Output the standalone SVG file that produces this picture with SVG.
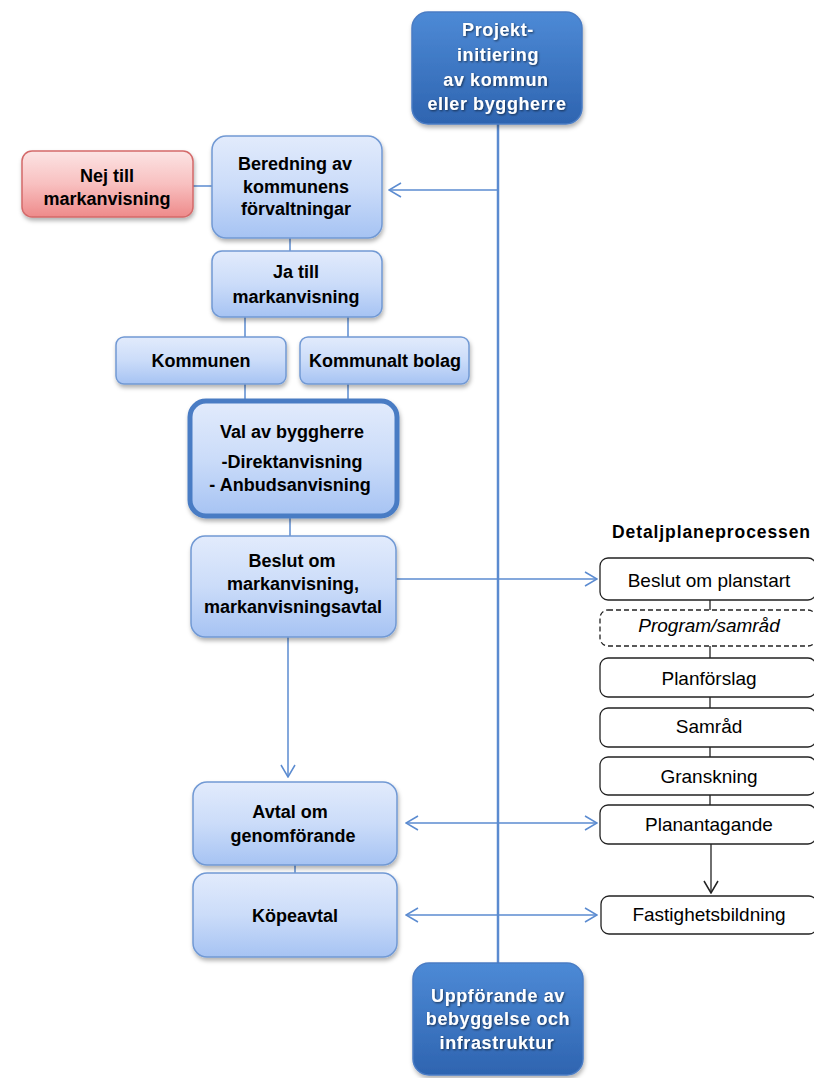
<svg xmlns="http://www.w3.org/2000/svg" width="814" height="1078" viewBox="0 0 814 1078">
<defs>
<linearGradient id="gLight" x1="0" y1="0" x2="0" y2="1"><stop offset="0" stop-color="#e2ebfc"/><stop offset="0.5" stop-color="#cbdcf9"/><stop offset="1" stop-color="#a6c3f3"/></linearGradient>
<linearGradient id="gDark" x1="0" y1="0" x2="0" y2="1"><stop offset="0" stop-color="#4d8ad6"/><stop offset="1" stop-color="#2e64b0"/></linearGradient>
<linearGradient id="gRed" x1="0" y1="0" x2="0" y2="1"><stop offset="0" stop-color="#fce4e4"/><stop offset="0.5" stop-color="#f8c0c0"/><stop offset="1" stop-color="#ee8a8a"/></linearGradient>
<filter id="sh" x="-10%" y="-10%" width="130%" height="140%"><feDropShadow dx="1" dy="3" stdDeviation="2" flood-color="#000" flood-opacity="0.3"/></filter>
<filter id="tsh" x="-10%" y="-20%" width="130%" height="160%"><feDropShadow dx="1" dy="1" stdDeviation="0.8" flood-color="#000" flood-opacity="0.6"/></filter>
<marker id="ab" markerWidth="14" markerHeight="16" refX="13" refY="8" orient="auto-start-reverse" markerUnits="userSpaceOnUse"><path d="M1,1 L13,8 L1,15" fill="none" stroke="#5b8bd0" stroke-width="1.5"/></marker>
<marker id="ak" markerWidth="14" markerHeight="16" refX="13" refY="8" orient="auto" markerUnits="userSpaceOnUse"><path d="M1,1 L13,8 L1,15" fill="none" stroke="#222" stroke-width="1.5"/></marker>
</defs>
<style>
.light{fill:url(#gLight);stroke:#7199d4;stroke-width:1.5;filter:url(#sh)}
.dark{fill:url(#gDark);stroke:#4a7cc4;stroke-width:1.5;filter:url(#sh)}
.red{fill:url(#gRed);stroke:#d46a6a;stroke-width:1.5;filter:url(#sh)}
.plain{fill:#fff;stroke:#222;stroke-width:1.3}
.dash{fill:#fff;stroke:#222;stroke-width:1.3;stroke-dasharray:5 3}
.t{font-family:"Liberation Sans",Arial,sans-serif;font-weight:bold;font-size:18px;fill:#000;text-anchor:middle}
.w{font-family:"Liberation Sans",Arial,sans-serif;font-weight:bold;font-size:18px;fill:#fff;text-anchor:middle;letter-spacing:0.6px;filter:url(#tsh)}
.r{font-family:"Liberation Sans",Arial,sans-serif;font-size:19px;fill:#000;text-anchor:middle}
.c{stroke:#5b8bd0;stroke-width:1.5;fill:none}
.k{stroke:#222;stroke-width:1.3;fill:none}
</style>
<g id="connectors">
<line class="c" x1="498" y1="124" x2="498" y2="964" style="stroke-width:2.5"/>
<line class="c" x1="498" y1="190" x2="389" y2="190" marker-end="url(#ab)"/>
<line class="c" x1="193" y1="186" x2="212" y2="186"/>
<line class="c" x1="290" y1="238" x2="290" y2="251"/>
<line class="c" x1="245" y1="317" x2="245" y2="337"/>
<line class="c" x1="348" y1="317" x2="348" y2="337"/>
<line class="c" x1="245" y1="384" x2="245" y2="401"/>
<line class="c" x1="348" y1="384" x2="348" y2="401"/>
<line class="c" x1="290" y1="517" x2="290" y2="536"/>
<line class="c" x1="396" y1="579" x2="597" y2="579" marker-end="url(#ab)"/>
<line class="c" x1="288" y1="637" x2="288" y2="777" marker-end="url(#ab)"/>
<line class="c" x1="295" y1="865" x2="295" y2="873"/>
<line class="c" x1="406" y1="823" x2="597" y2="823" marker-start="url(#ab)" marker-end="url(#ab)"/>
<line class="c" x1="406" y1="915" x2="597" y2="915" marker-start="url(#ab)" marker-end="url(#ab)"/>
<line class="k" x1="710" y1="600" x2="710" y2="610"/>
<line class="k" x1="710" y1="646" x2="710" y2="658"/>
<line class="k" x1="710" y1="697" x2="710" y2="708"/>
<line class="k" x1="710" y1="747" x2="710" y2="757"/>
<line class="k" x1="710" y1="795" x2="710" y2="805"/>
<line class="k" x1="711" y1="844" x2="711" y2="893" marker-end="url(#ak)"/>
</g>
<g id="n-projekt">
<rect class="dark" x="412" y="12" width="170" height="112" rx="16"/>
<text class="w" x="498" y="36">Projekt-</text>
<text class="w" x="498" y="61">initiering</text>
<text class="w" x="496" y="86">av kommun</text>
<text class="w" x="497" y="110">eller byggherre</text>
</g>
<g id="n-nej">
<rect class="red" x="22" y="151" width="171" height="66" rx="10"/>
<text class="t" x="107" y="182">Nej till</text>
<text class="t" x="107" y="205">markanvisning</text>
</g>
<g id="n-beredning">
<rect class="light" x="212" y="136" width="170" height="102" rx="14"/>
<text class="t" x="295" y="170">Beredning av</text>
<text class="t" x="296" y="193">kommunens</text>
<text class="t" x="296" y="215">förvaltningar</text>
</g>
<g id="n-ja">
<rect class="light" x="212" y="251" width="170" height="66" rx="10"/>
<text class="t" x="296" y="278">Ja till</text>
<text class="t" x="296" y="303">markanvisning</text>
</g>
<g id="n-kommunen">
<rect class="light" x="116" y="337" width="170" height="47" rx="8"/>
<text class="t" x="201" y="367">Kommunen</text>
</g>
<g id="n-bolag">
<rect class="light" x="300" y="337" width="169" height="47" rx="8"/>
<text class="t" x="385" y="367">Kommunalt bolag</text>
</g>
<g id="n-val">
<rect class="light" x="190" y="401" width="207" height="115" rx="16" style="stroke:#4a7cc4;stroke-width:5"/>
<text class="t" x="292" y="438">Val av byggherre</text>
<text class="t" x="292" y="468">-Direktanvisning</text>
<text class="t" x="290" y="491">- Anbudsanvisning</text>
</g>
<g id="n-beslut">
<rect class="light" x="191" y="536" width="205" height="101" rx="14"/>
<text class="t" x="292" y="567">Beslut om</text>
<text class="t" x="293" y="590">markanvisning,</text>
<text class="t" x="293" y="613">markanvisningsavtal</text>
</g>
<g id="n-avtal">
<rect class="light" x="193" y="782" width="204" height="83" rx="14"/>
<text class="t" x="290" y="818">Avtal om</text>
<text class="t" x="293" y="842">genomförande</text>
</g>
<g id="n-kop">
<rect class="light" x="193" y="873" width="204" height="84" rx="14"/>
<text class="t" x="295" y="922">Köpeavtal</text>
</g>
<g id="n-uppforande">
<rect class="dark" x="413" y="963" width="170" height="112" rx="16"/>
<text class="w" x="498" y="1002">Uppförande av</text>
<text class="w" x="498" y="1025">bebyggelse och</text>
<text class="w" x="497" y="1049">infrastruktur</text>
</g>
<g id="detaljplan">
<text x="612" y="538" style="font-family:'Liberation Sans',Arial,sans-serif;font-weight:bold;font-size:17.5px;letter-spacing:0.9px;fill:#000">Detaljplaneprocessen</text>
<g id="n-planstart"><rect class="plain" x="600" y="558" width="216" height="42" rx="8"/><text class="r" x="709" y="587">Beslut om planstart</text></g>
<g id="n-program"><rect class="dash" x="600" y="610" width="216" height="36" rx="8"/><text class="r" x="709" y="632" font-style="italic">Program/samråd</text></g>
<g id="n-planforslag"><rect class="plain" x="600" y="658" width="216" height="39" rx="8"/><text class="r" x="709" y="685">Planförslag</text></g>
<g id="n-samrad"><rect class="plain" x="600" y="708" width="216" height="39" rx="8"/><text class="r" x="709" y="733">Samråd</text></g>
<g id="n-granskning"><rect class="plain" x="600" y="757" width="216" height="38" rx="8"/><text class="r" x="709" y="783">Granskning</text></g>
<g id="n-planantagande"><rect class="plain" x="600" y="805" width="216" height="39" rx="8"/><text class="r" x="709" y="831">Planantagande</text></g>
<g id="n-fastighet"><rect class="plain" x="601" y="896" width="216" height="38" rx="8"/><text class="r" x="709" y="921">Fastighetsbildning</text></g>
</g>
</svg>
